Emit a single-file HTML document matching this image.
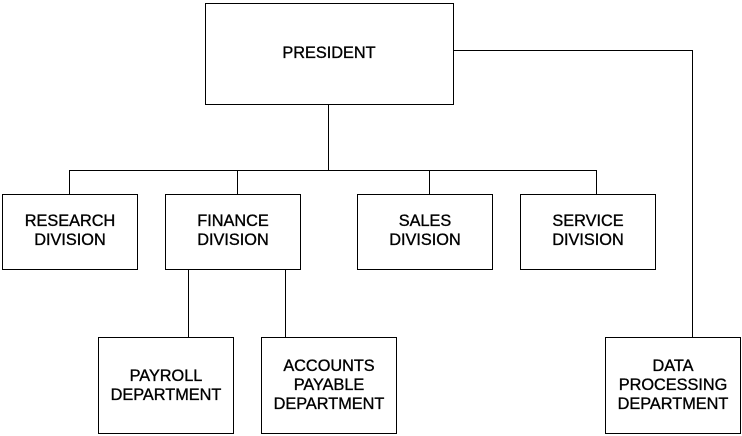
<!DOCTYPE html>
<html><head><meta charset="utf-8"><style>
html,body{margin:0;padding:0;background:#fff;}
svg{display:block}
text{font-family:"Liberation Sans",Arial,sans-serif;font-size:16.3px;fill:#000;stroke:#000;stroke-width:0.35;text-anchor:middle}
</style></head><body>
<svg width="742" height="436" viewBox="0 0 742 436" xmlns="http://www.w3.org/2000/svg">
<g fill="none" stroke="#000" stroke-width="1">
<rect x="205.5" y="3.5" width="248" height="101"/>
<rect x="2.5" y="194.5" width="135" height="75"/>
<rect x="165.5" y="194.5" width="135" height="75"/>
<rect x="357.5" y="194.5" width="135" height="75"/>
<rect x="520.5" y="194.5" width="135" height="75"/>
<rect x="98.5" y="337.5" width="135" height="96"/>
<rect x="261.5" y="337.5" width="135" height="96"/>
<rect x="605.5" y="337.5" width="135" height="96"/>
<path d="M328.5 104.5V170.5M69.5 194.5V170.5H596.5V194.5M237.5 170.5V194.5M429.5 170.5V194.5M188.5 269.5V337.5M285.5 269.5V337.5M453.5 50.5H692.5V337.5"/>
</g>
<text x="329" y="58">PRESIDENT</text>
<text x="70" y="226">RESEARCH</text><text x="70" y="245">DIVISION</text>
<text x="233" y="226">FINANCE</text><text x="233" y="245">DIVISION</text>
<text x="425" y="226">SALES</text><text x="425" y="245">DIVISION</text>
<text x="588" y="226">SERVICE</text><text x="588" y="245">DIVISION</text>
<text x="166" y="381">PAYROLL</text><text x="166" y="400">DEPARTMENT</text>
<text x="329" y="371">ACCOUNTS</text><text x="329" y="390">PAYABLE</text><text x="329" y="409">DEPARTMENT</text>
<text x="673" y="371">DATA</text><text x="673" y="390">PROCESSING</text><text x="673" y="409">DEPARTMENT</text>
</svg>
</body></html>
